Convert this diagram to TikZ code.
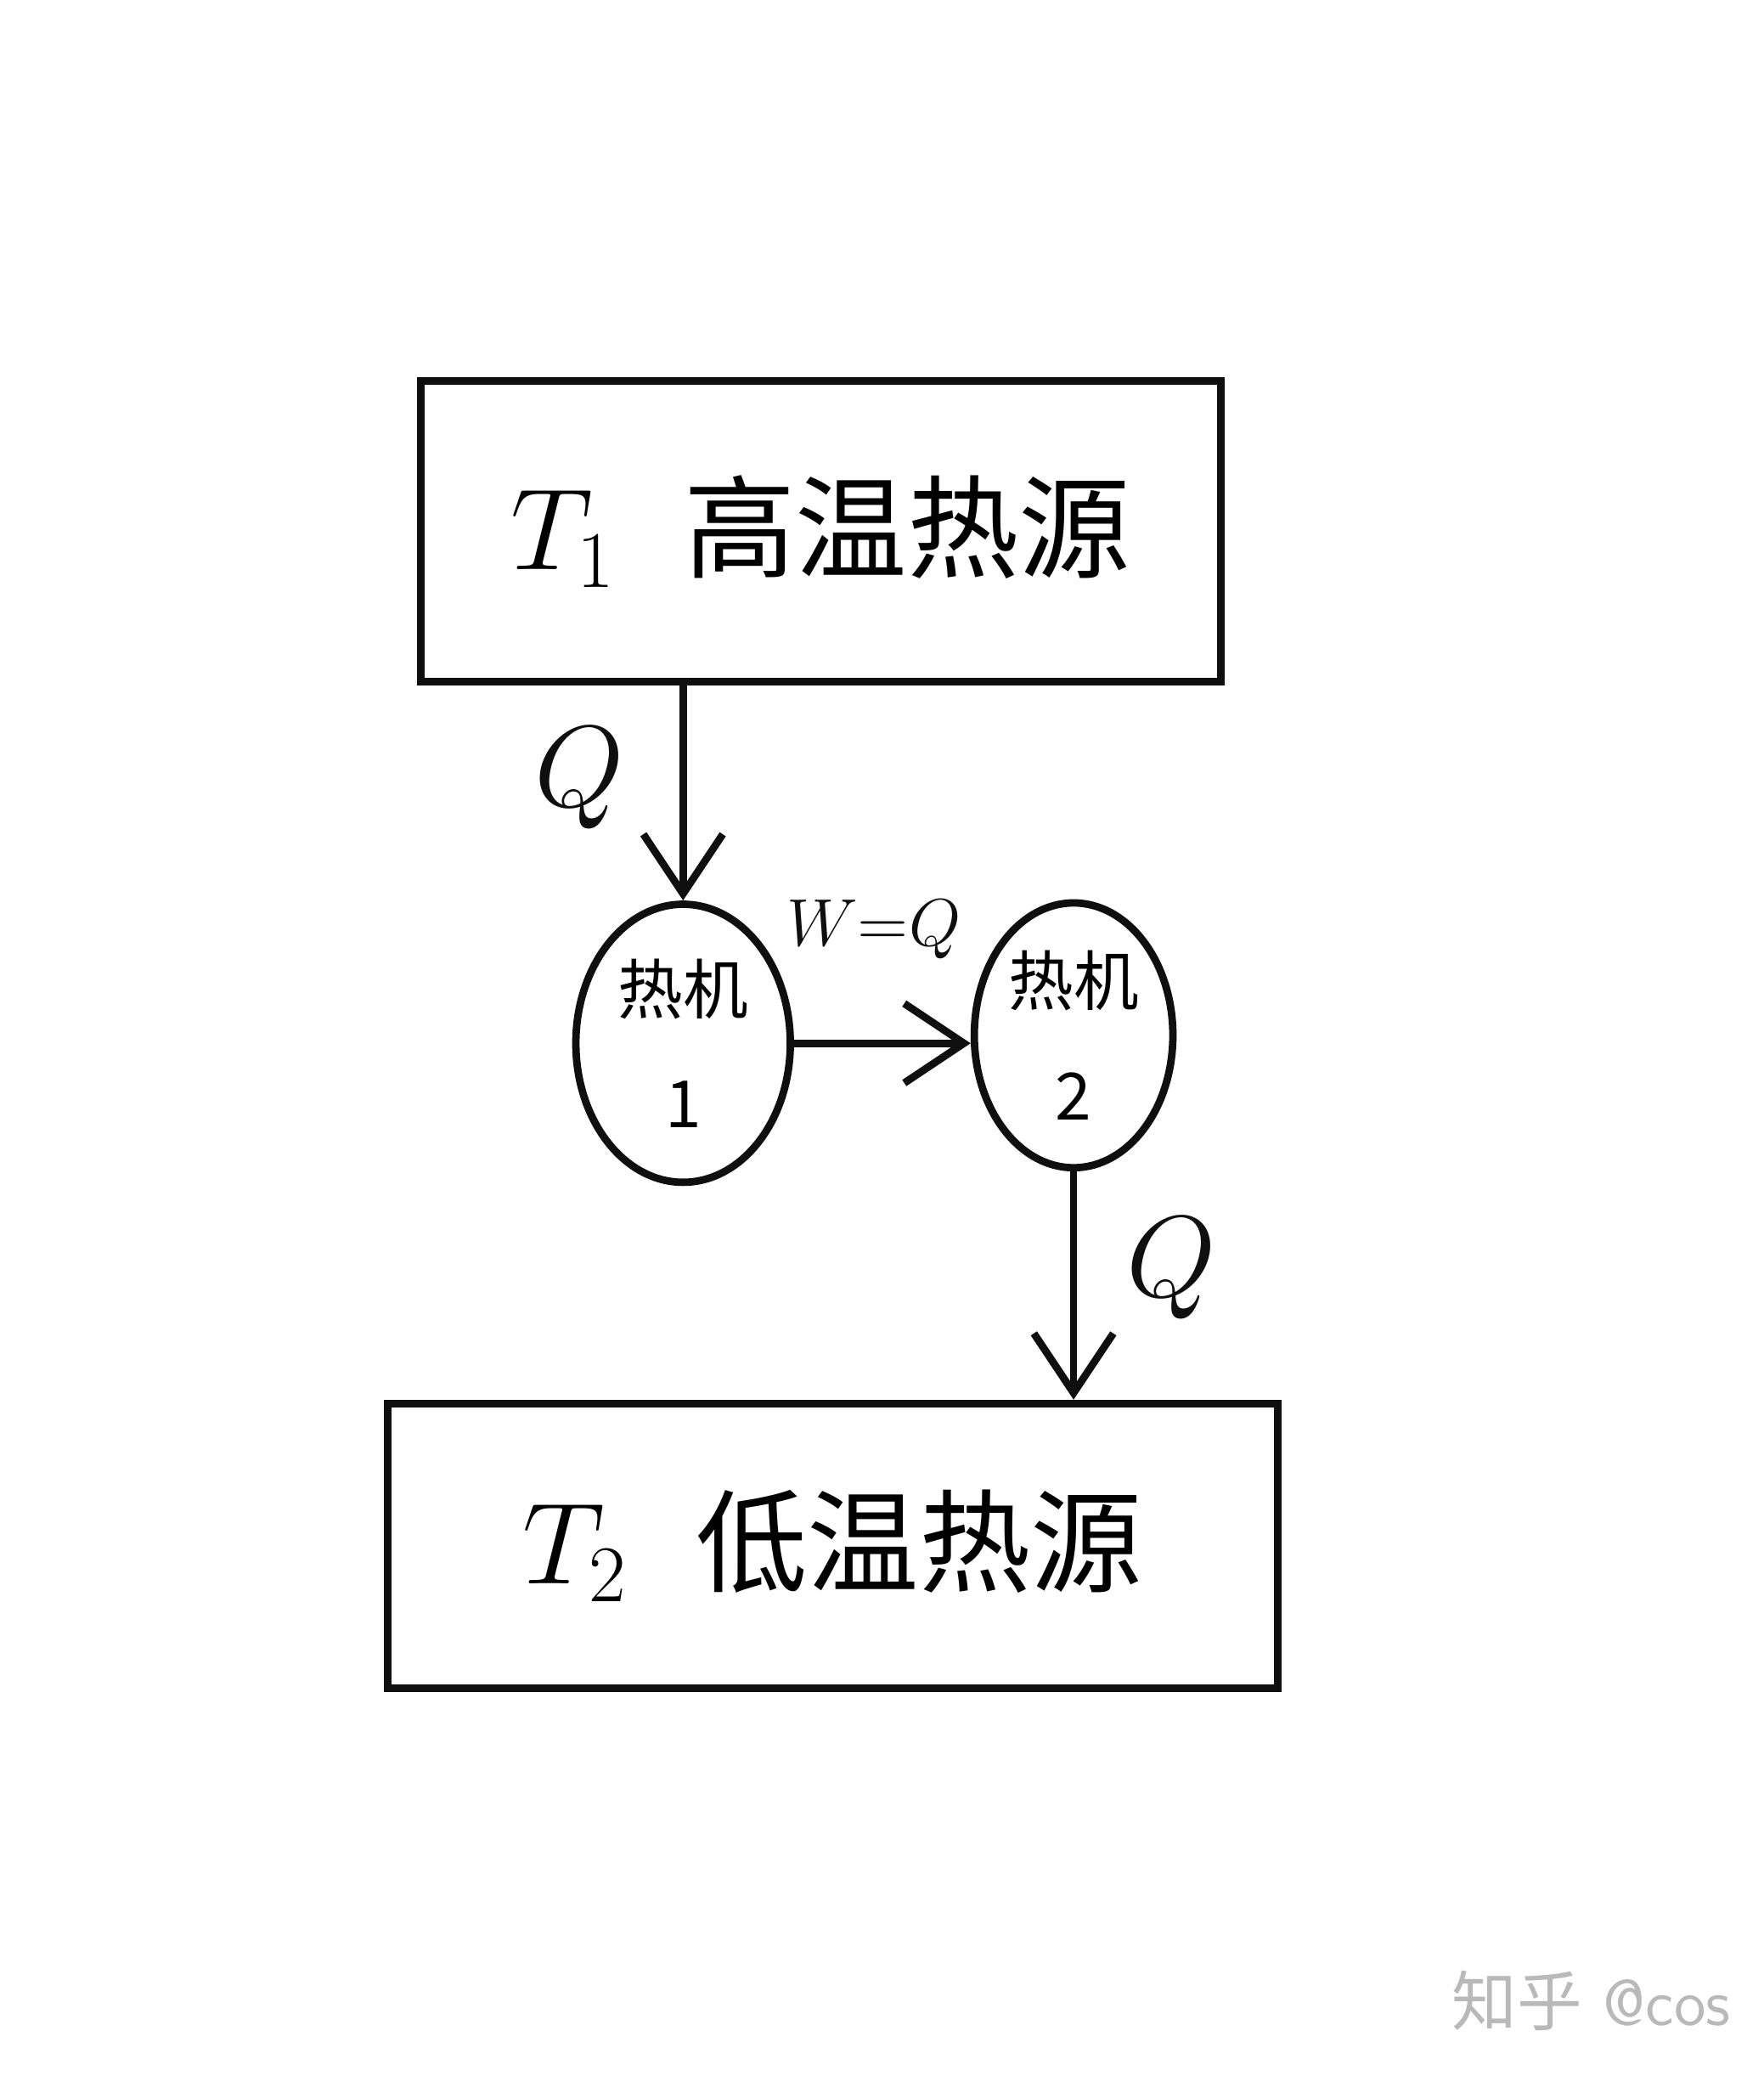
\documentclass[tikz,border=0pt]{standalone}
\usepackage{fontspec}
\usepackage{tikz}
\usetikzlibrary{positioning,arrows.meta,shapes.geometric}
\newfontfamily\cjk{Noto Sans CJK SC}
\definecolor{inkblack}{RGB}{15,15,15}
\definecolor{markgray}{RGB}{185,185,185}
\tikzset{
  reservoir/.style={draw=inkblack,line width=1.6pt,rectangle,inner sep=0pt},
  engine/.style={draw=inkblack,line width=1.6pt,ellipse,inner sep=0pt,align=center,font=\cjk\fontsize{14}{16}\selectfont},
  flow/.style={draw=inkblack,line width=1.6pt,-{Straight Barb[length=4.5mm,width=6mm,line width=1.6pt]}},
  flowlabel/.style={font=\fontsize{24}{28}\selectfont,text=inkblack}
}
\begin{document}
\begin{tikzpicture}
  \useasboundingbox (0,0) rectangle (13.32,15.68);
  % reservoirs
  \node[reservoir,minimum width=6.04cm,minimum height=2.27cm] (hot) at (6.20,11.665)
    {\fontsize{24}{28}\selectfont $T_1$\ \ {\cjk 高温热源}};
  \node[reservoir,minimum width=6.72cm,minimum height=2.15cm] (cold) at (6.29,4.005)
    {\fontsize{24}{28}\selectfont $T_2$\ \ {\cjk 低温热源}};
  % engines
  \node[engine,minimum width=1.62cm,minimum height=2.10cm] (eng1) at (5.16,7.80) {热机\\[3mm]1};
  \node[engine,minimum width=1.50cm,minimum height=2.00cm] (eng2) at (8.11,7.86) {热机\\[3mm]2};
  % heat and work flows
  \draw[flow] (hot.south -| eng1.north) -- (eng1.north);
  \draw[flow] (eng1.east) -- (eng1.east -| eng2.west);
  \draw[flow] (eng2.south) -- (eng2.south |- cold.north);
  \node[flowlabel] (q1) at (4.38,9.80) {$Q$};
  \node[flowlabel,font=\fontsize{15}{18}\selectfont] (wq) at (6.60,8.66) {$W{=}Q$};
  \node[flowlabel] (q2) at (8.85,6.10) {$Q$};
  % watermark
  \node[text=markgray,font=\fontsize{14}{17}\selectfont] (mark) at (12.02,0.57) {{\cjk 知乎}\ \textsf{@cos}};
\end{tikzpicture}
\end{document}
